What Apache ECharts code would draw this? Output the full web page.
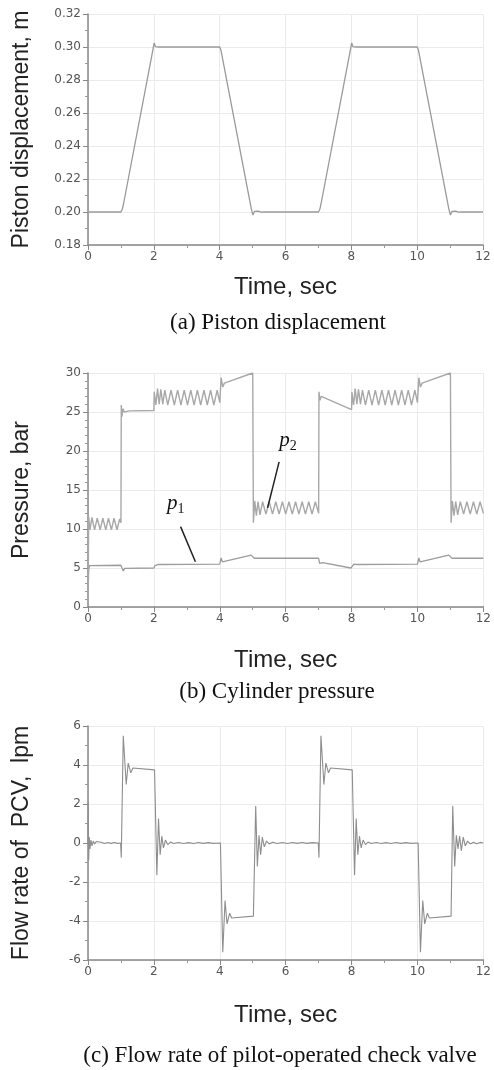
<!DOCTYPE html>
<html lang="en">

<head>
    <meta charset="UTF-8">
    <title>Piston displacement, cylinder pressure and PCV flow rate</title>
    <script src="https://cdn.jsdelivr.net/npm/echarts@6/dist/echarts.min.js"></script>
    <style>
        body { margin: 0; background: #fff; }
    </style>
</head>

<body>
    <div id="main" style="width: 494px; height: 1070px;"></div>
    <script type="text/javascript">
        // time ticks shared by all three plots
        var timeTicks = [0, 2, 4, 6, 8, 10, 12];

        // (a) piston displacement [t, m]
        var dispData = [
            [0, 0.200], [1.00, 0.200], [1.04, 0.2015], [1.08, 0.205], [1.96, 0.297], [2.01, 0.3025], [2.05, 0.3002],
            [2.09, 0.2998], [2.15, 0.300], [4.00, 0.300], [4.04, 0.298], [4.96, 0.202], [5.01, 0.1982], [5.06, 0.2004],
            [5.11, 0.1993], [5.17, 0.2005], [5.25, 0.1999], [5.35, 0.200], [7.00, 0.200], [7.04, 0.2015], [7.08, 0.205],
            [7.96, 0.297], [8.01, 0.3025], [8.05, 0.3002], [8.09, 0.2998], [8.15, 0.300], [10.00, 0.300], [10.04, 0.298],
            [10.96, 0.202], [11.01, 0.1982], [11.06, 0.2004], [11.11, 0.1993], [11.17, 0.2005], [11.25, 0.1999],
            [11.35, 0.200], [12, 0.200]
        ];

        // (b) cylinder pressure p1 [t, bar]
        var p1Data = [
            [0, 0.8], [0.01, 3.0], [0.02, 4.6], [0.04, 5.3], [0.1, 5.35], [1.0, 5.35], [1.03, 5.2], [1.07, 4.6],
            [1.11, 4.95], [1.15, 5.0], [2.0, 5.0], [2.03, 5.3], [2.08, 5.5], [2.15, 5.45], [4.0, 5.5], [4.04, 6.3],
            [4.08, 5.8], [4.13, 6.0], [4.95, 6.65], [5.0, 6.55], [5.05, 6.25], [7.0, 6.25], [7.03, 5.6], [7.07, 5.85],
            [7.12, 5.7], [7.98, 5.0], [8.03, 5.1], [8.07, 5.5], [8.15, 5.45], [10.0, 5.5], [10.04, 6.3], [10.08, 5.8],
            [10.13, 6.0], [10.95, 6.65], [11.0, 6.55], [11.05, 6.25], [12, 6.25]
        ];

        // (b) cylinder pressure p2 [t, bar]
        var p2Data = [
            [0, 0.5], [0.01, 5], [0.02, 11.6], [0.06, 9.9], [0.12, 11.5], [0.2, 9.9], [0.28, 11.4], [0.37, 9.9],
            [0.45, 11.4], [0.54, 9.9], [0.62, 11.4], [0.71, 9.9], [0.79, 11.4], [0.88, 9.9], [0.96, 11.3], [1.0, 10.8],
            [1.01, 25.9], [1.03, 24.4], [1.06, 25.4], [1.1, 25.0], [1.15, 25.25], [1.25, 25.15], [2.0, 25.2],
            [2.01, 27.6], [2.06, 25.9], [2.11, 28.0], [2.16, 26.0], [2.21, 27.9], [2.27, 26.0], [2.33, 27.8],
            [2.42, 25.9], [2.52, 27.8], [2.62, 25.9], [2.72, 27.8], [2.82, 25.9], [2.92, 27.8], [3.02, 25.9],
            [3.12, 27.8], [3.22, 25.9], [3.32, 27.8], [3.42, 25.9], [3.52, 27.8], [3.62, 25.9], [3.72, 27.8],
            [3.82, 25.9], [3.92, 27.8], [4.0, 26.2], [4.04, 29.4], [4.09, 28.2], [4.14, 28.7], [4.2, 28.6],
            [5.0, 30.0], [5.01, 20], [5.02, 10.8], [5.06, 13.6], [5.11, 11.7], [5.16, 13.5], [5.22, 11.8],
            [5.3, 13.5], [5.4, 11.9], [5.5, 13.5], [5.6, 11.9], [5.7, 13.5], [5.8, 11.9], [5.9, 13.5], [6.0, 11.9],
            [6.1, 13.5], [6.2, 11.9], [6.3, 13.5], [6.4, 11.9], [6.5, 13.5], [6.6, 11.9], [6.7, 13.5], [6.8, 11.9],
            [6.9, 13.5], [7.0, 12.0], [7.01, 27.6], [7.04, 26.5], [7.08, 27.0], [7.12, 26.9], [8.0, 25.3],
            [8.01, 27.6], [8.06, 25.9], [8.11, 28.0], [8.16, 26.0], [8.21, 27.9], [8.27, 26.0], [8.33, 27.8],
            [8.42, 25.9], [8.52, 27.8], [8.62, 25.9], [8.72, 27.8], [8.82, 25.9], [8.92, 27.8], [9.02, 25.9],
            [9.12, 27.8], [9.22, 25.9], [9.32, 27.8], [9.42, 25.9], [9.52, 27.8], [9.62, 25.9], [9.72, 27.8],
            [9.82, 25.9], [9.92, 27.8], [10.0, 26.2], [10.04, 29.4], [10.09, 28.2], [10.14, 28.7], [10.2, 28.6],
            [11.0, 30.0], [11.01, 20], [11.02, 10.8], [11.06, 13.6], [11.11, 11.7], [11.16, 13.5], [11.22, 11.8],
            [11.3, 13.5], [11.4, 11.9], [11.5, 13.5], [11.6, 11.9], [11.7, 13.5], [11.8, 11.9], [11.9, 13.5],
            [12.0, 12.0]
        ];

        // (c) flow rate of pilot-operated check valve [t, lpm]
        var flowData = [
            [0, 0], [0.005, 2.1], [0.02, -0.9], [0.04, 0.3], [0.06, -0.3], [0.09, 0.15], [0.12, -0.15], [0.16, 0.1],
            [0.2, -0.05], [0.25, 0.08], [0.3, 0], [0.4, 0.04], [0.5, -0.03], [0.6, 0.03], [0.7, -0.02], [0.8, 0.03],
            [0.9, -0.02], [0.99, 0],
            [1.01, -0.75], [1.07, 5.5], [1.16, 3.0], [1.22, 4.1], [1.30, 3.6], [1.36, 3.85], [1.42, 3.75], [2.02, 3.75],
            [2.09, -1.65], [2.14, 1.25], [2.19, -0.6], [2.24, 0.35], [2.29, -0.25], [2.35, 0.15], [2.42, -0.08],
            [2.5, 0.05], [2.6, -0.03], [2.75, 0.03], [2.9, -0.03], [3.05, 0.02], [3.2, -0.03], [3.35, 0.03],
            [3.5, -0.02], [3.65, 0.02], [3.8, -0.02], [4.02, 0],
            [4.09, -5.6], [4.16, -2.95], [4.22, -4.15], [4.30, -3.6], [4.36, -3.85], [4.42, -3.75], [5.02, -3.75],
            [5.09, 1.9], [5.14, -1.2], [5.19, 0.4], [5.24, -0.6], [5.29, 0.3], [5.35, -0.2], [5.42, 0.1],
            [5.5, -0.05], [5.6, 0.04], [5.75, -0.03], [5.9, 0.03], [6.05, -0.03], [6.2, 0.03], [6.35, -0.02],
            [6.5, 0.03], [6.65, -0.02], [6.8, 0.02], [6.99, 0],
            [7.01, -0.75], [7.07, 5.5], [7.16, 3.0], [7.22, 4.1], [7.30, 3.6], [7.36, 3.85], [7.42, 3.75], [8.02, 3.75],
            [8.09, -1.65], [8.14, 1.25], [8.19, -0.6], [8.24, 0.35], [8.29, -0.25], [8.35, 0.15], [8.42, -0.08],
            [8.5, 0.05], [8.6, -0.03], [8.75, 0.03], [8.9, -0.03], [9.05, 0.02], [9.2, -0.03], [9.35, 0.03],
            [9.5, -0.02], [9.65, 0.02], [9.8, -0.02], [10.02, 0],
            [10.09, -5.6], [10.16, -2.95], [10.22, -4.15], [10.30, -3.6], [10.36, -3.85], [10.42, -3.75], [11.02, -3.75],
            [11.07, 1.9], [11.13, -1.2], [11.18, 0.4], [11.23, -0.3], [11.28, 0.35], [11.33, -0.4], [11.39, 0.3],
            [11.45, -0.15], [11.52, 0.1], [11.6, -0.05], [11.7, 0.04], [11.8, -0.04], [11.9, 0.03], [12, 0]
        ];

        // annotation anchors in data units (label point, leader line from -> to)
        var p1Label = [2.66, 13.3];
        var p1Leader = [[2.81, 10.3], [3.26, 5.8]];
        var p2Label = [6.07, 21.4];
        var p2Leader = [[5.80, 18.6], [5.45, 12.7]];

        var captions = ['(a) Piston displacement', '(b) Cylinder pressure', '(c) Flow rate of pilot-operated check valve'];

        var tickFont = { fontFamily: 'DejaVu Sans', fontSize: 12, color: '#555' };
        var nameFont = { fontFamily: 'Liberation Sans', fontSize: 23, color: '#222' };

        function makeX(idx, gap) {
            return {
                type: 'value', gridIndex: idx, min: timeTicks[0], max: timeTicks[timeTicks.length - 1], interval: 2,
                name: 'Time, sec', nameLocation: 'middle', nameGap: gap,
                nameTextStyle: { fontFamily: 'Liberation Sans', fontSize: 24, color: '#222' },
                axisLine: { onZero: false, lineStyle: { color: '#888', width: 1.5 } },
                axisTick: { length: 5, lineStyle: { color: '#888' } },
                minorTick: { show: true, splitNumber: 2, length: 3, lineStyle: { color: '#999' } },
                axisLabel: Object.assign({ margin: 6, showMaxLabel: true, showMinLabel: true }, tickFont),
                splitLine: { show: true, lineStyle: { color: '#ebebeb', width: 1 } }
            };
        }

        function makeY(idx, name, min, max, interval, minorSplit, fmt) {
            return {
                type: 'value', gridIndex: idx, min: min, max: max, interval: interval,
                name: name, nameLocation: 'middle', nameGap: 55, nameTextStyle: nameFont,
                axisLine: { show: true, onZero: false, lineStyle: { color: '#888', width: 1.5 } },
                axisTick: { show: true, length: 5, lineStyle: { color: '#888' } },
                minorTick: { show: true, splitNumber: minorSplit, length: 3, lineStyle: { color: '#999' } },
                axisLabel: Object.assign({ margin: 7, formatter: fmt }, tickFont),
                splitLine: { show: true, lineStyle: { color: '#ebebeb', width: 1 } }
            };
        }

        var labelRich = {
            i: { fontFamily: 'Liberation Serif', fontStyle: 'italic', fontSize: 21, color: '#111' },
            s: { fontFamily: 'Liberation Serif', fontSize: 14, color: '#111', padding: [12, 0, 0, 0] }
        };

        function annot(sub, pos, leader) {
            return {
                markPoint: {
                    silent: true, symbol: 'circle', symbolSize: 0,
                    label: { show: true, position: 'inside', formatter: '{i|p}{s|' + sub + '}', rich: labelRich },
                    data: [{ coord: pos }]
                },
                markLine: {
                    silent: true, symbol: ['none', 'none'],
                    lineStyle: { color: '#222', width: 1.5, type: 'solid' },
                    label: { show: false },
                    data: [[{ coord: leader[0] }, { coord: leader[1] }]]
                }
            };
        }

        var myChart = echarts.init(document.getElementById('main'));
        var option = {
            animation: false,
            backgroundColor: '#fff',
            grid: [
                { left: 88, top: 14, width: 395, height: 231 },
                { left: 88, top: 373, width: 401, height: 234 },
                { left: 88, top: 726, width: 399, height: 234 }
            ],
            xAxis: [makeX(0, 30), makeX(1, 41), makeX(2, 43)],
            yAxis: [
                makeY(0, 'Piston displacement, m', 0.18, 0.32, 0.02, 2, function (v) { return v.toFixed(2); }),
                makeY(1, 'Pressure, bar', 0, 30, 5, 5, '{value}'),
                makeY(2, 'Flow rate of  PCV,  lpm', -6, 6, 2, 2, '{value}')
            ],
            graphic: [
                { type: 'text', x: 278, y: 323, style: { text: captions[0], align: 'center', verticalAlign: 'middle', font: '23px "Liberation Serif"', fill: '#111' } },
                { type: 'text', x: 277, y: 692, style: { text: captions[1], align: 'center', verticalAlign: 'middle', font: '23px "Liberation Serif"', fill: '#111' } },
                { type: 'text', x: 280, y: 1056, style: { text: captions[2], align: 'center', verticalAlign: 'middle', font: '23px "Liberation Serif"', fill: '#111' } }
            ],
            series: [
                {
                    name: 'displacement', type: 'line', xAxisIndex: 0, yAxisIndex: 0, showSymbol: false,
                    lineStyle: { color: '#9a9a9a', width: 1.3 }, data: dispData
                },
                Object.assign({
                    name: 'p1', type: 'line', xAxisIndex: 1, yAxisIndex: 1, showSymbol: false,
                    lineStyle: { color: '#9c9c9c', width: 1.3 }, data: p1Data
                }, annot('1', p1Label, p1Leader)),
                Object.assign({
                    name: 'p2', type: 'line', xAxisIndex: 1, yAxisIndex: 1, showSymbol: false,
                    lineStyle: { color: '#a8a8a8', width: 1.4 }, data: p2Data
                }, annot('2', p2Label, p2Leader)),
                {
                    name: 'flow', type: 'line', xAxisIndex: 2, yAxisIndex: 2, showSymbol: false,
                    lineStyle: { color: '#8e8e8e', width: 1.1 }, data: flowData
                }
            ]
        };

        myChart.setOption(option);
    </script>
</body>

</html>
